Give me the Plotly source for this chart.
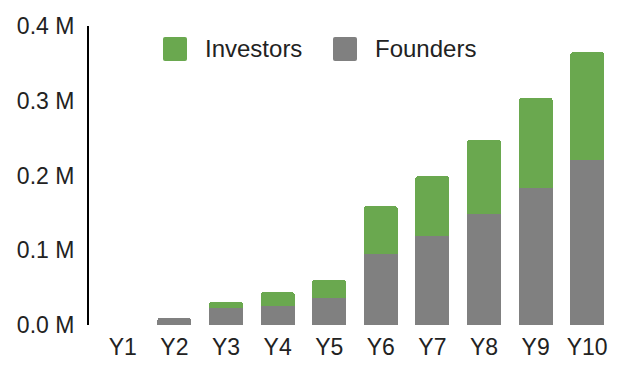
import plotly.graph_objects as go

categories = ["Y1", "Y2", "Y3", "Y4", "Y5", "Y6", "Y7", "Y8", "Y9", "Y10"]
founders = [0, 9400, 23000, 26000, 36500, 95000, 119000, 148500, 183700, 220700]
investors = [0, 0, 7800, 18000, 23700, 64000, 80000, 99000, 120000, 144300]
tick_vals = [0, 100000, 200000, 300000, 400000]
tick_text = ["0.0 M", "0.1 M", "0.2 M", "0.3 M", "0.4 M"]
series_names = ["Investors", "Founders"]
GREEN = "#6aa84f"
GRAY = "#808080"
FONT = "Liberation Sans, Arial, sans-serif"

fig = go.Figure()
fig.add_trace(go.Bar(x=categories, y=founders, name="Founders", marker_color=GRAY,
                     marker_line_width=0, showlegend=False))
fig.add_trace(go.Bar(x=categories, y=investors, name="Investors", marker_color=GREEN,
                     marker_line_width=0, showlegend=False))

L, R, T, B = 89, 11, 26, 47
W, H = 624, 372
pw, ph = W - L - R, H - T - B

def px_to_paper(x, y):
    return (x - L) / pw, (H - B - y) / ph

def rounded_rect(x0, y0, x1, y1, r=2):
    a0, b0 = px_to_paper(x0, y0)
    a1, b1 = px_to_paper(x1, y1)
    rx, ry = r / pw, r / ph
    return (f"M{a0+rx},{b0} L{a1-rx},{b0} Q{a1},{b0} {a1},{b0-ry} "
            f"L{a1},{b1+ry} Q{a1},{b1} {a1-rx},{b1} L{a0+rx},{b1} "
            f"Q{a0},{b1} {a0},{b1+ry} L{a0},{b0-ry} Q{a0},{b0} {a0+rx},{b0} Z")

legend_items = [(series_names[0], GREEN, 163), (series_names[1], GRAY, 333)]
shapes = []
annotations = []
for name, col, sx in legend_items:
    shapes.append(dict(type="path", xref="paper", yref="paper",
                       path=rounded_rect(sx, 37, sx + 24, 61), fillcolor=col,
                       line=dict(width=0)))
    ax, ay = px_to_paper(sx + 40, 49)
    annotations.append(dict(x=ax, y=ay, xref="paper", yref="paper", text=name,
                            showarrow=False, xanchor="left", yanchor="middle",
                            font=dict(size=24, color="#222222", family=FONT)))

fig.update_layout(
    width=W, height=H,
    margin=dict(l=L, r=R, t=T, b=B, pad=0),
    barmode="stack", bargap=0.34, barcornerradius=3,
    plot_bgcolor="white", paper_bgcolor="white",
    font=dict(family=FONT, color="#222222"),
    shapes=shapes, annotations=annotations,
    xaxis=dict(range=[-0.655, 9.5], showgrid=False, zeroline=False, showline=False,
               ticks="", tickfont=dict(size=23, color="#222222"), ticklabelstandoff=6,
               fixedrange=True),
    yaxis=dict(range=[0, 400000], tickvals=tick_vals, ticktext=tick_text,
               showgrid=False, zeroline=False, showline=True, linecolor="black",
               linewidth=2, ticks="", tickfont=dict(size=23, color="#222222"),
               ticklabelstandoff=8, fixedrange=True),
)

fig.write_html("out.html", config={"displayModeBar": False},
               post_script="document.body.style.margin='0';document.body.style.padding='0';")
